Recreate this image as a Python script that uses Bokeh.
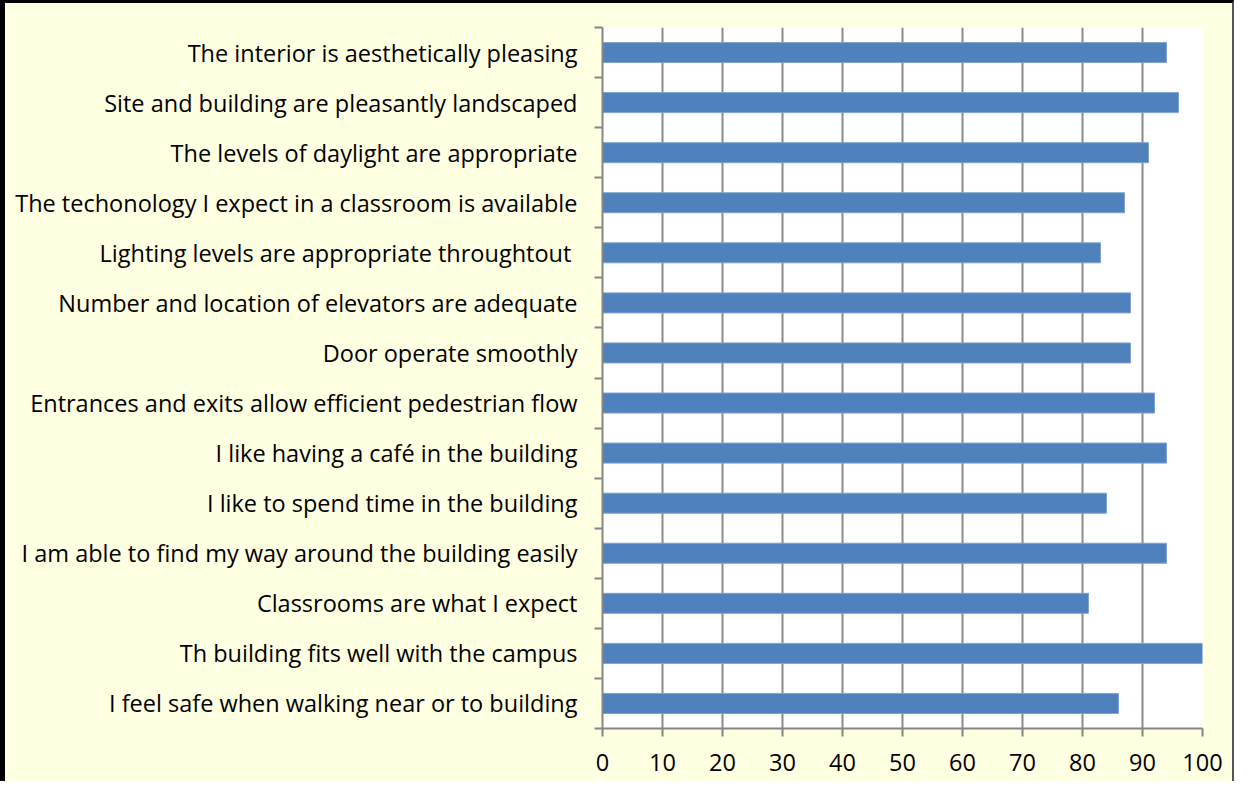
from bokeh.plotting import figure
from bokeh.models import FixedTicker, ColumnDataSource, Range1d
from bokeh.embed import file_html
from bokeh.resources import INLINE

categories = [
    "The interior is aesthetically pleasing",
    "Site and building are pleasantly landscaped",
    "The levels of daylight are appropriate",
    "The techonology I expect in a classroom is available",
    "Lighting levels are appropriate throughtout ",
    "Number and location of elevators are adequate",
    "Door operate smoothly",
    "Entrances and exits allow efficient pedestrian flow",
    "I like having a café in the building",
    "I like to spend time in the building",
    "I am able to find my way around the building easily",
    "Classrooms are what I expect",
    "Th building fits well with the campus",
    "I feel safe when walking near or to building",
]
values = [94, 96, 91, 87, 83, 88, 88, 92, 94, 84, 94, 81, 100, 86]
x_ticks = [0, 10, 20, 30, 40, 50, 60, 70, 80, 90, 100]

n = len(categories)
ypos = [n - i - 0.5 for i in range(n)]

W, H = 1234, 781
FL, FT, FW, FH = 597, 24, 600, 701
p = figure(width=W, height=H, output_backend="svg", toolbar_location=None,
           x_range=Range1d(0, 100), y_range=Range1d(0, n),
           min_border_left=FL, min_border_right=W - FL - FW,
           min_border_top=FT, min_border_bottom=H - FT - FH)
p.background_fill_color = "white"
p.border_fill_color = "#FFFFE2"
p.outline_line_color = None
p.styles = {"border-left": "5px solid black", "border-top": "3px solid black",
            "border-right": "2px solid #555555"}

src = ColumnDataSource(dict(y=ypos, v=values))
p.hbar(y="y", right="v", left=0, height=0.4, source=src,
       fill_color="#4F81BD", line_color="#7FA3D0", line_width=1)

font = "Open Sans"
fs = "23.5px"
# x axis
p.xaxis.ticker = FixedTicker(ticks=x_ticks)
p.xaxis.axis_line_color = "#868686"
p.xaxis.axis_line_width = 2
p.xaxis.major_tick_line_color = "#868686"
p.xaxis.major_tick_line_width = 2
p.xaxis.major_tick_out = 8
p.xaxis.major_tick_in = 0
p.xaxis.minor_tick_line_color = None
p.xaxis.major_label_text_font = font
p.xaxis.major_label_text_font_size = fs
p.xaxis.major_label_text_color = "black"
p.xaxis.major_label_standoff = 17

# y axis
p.yaxis.ticker = FixedTicker(ticks=ypos, minor_ticks=list(range(n + 1)))
p.yaxis.major_label_overrides = {y: c for y, c in zip(ypos, categories)}
p.yaxis.axis_line_color = "#868686"
p.yaxis.axis_line_width = 2
p.yaxis.major_tick_line_color = None
p.yaxis.major_tick_out = 0
p.yaxis.major_tick_in = 0
p.yaxis.minor_tick_line_color = "#868686"
p.yaxis.minor_tick_line_width = 2
p.yaxis.minor_tick_out = 8
p.yaxis.minor_tick_in = 0
p.yaxis.major_label_text_font = font
p.yaxis.major_label_text_font_size = fs
p.yaxis.major_label_text_color = "black"
p.yaxis.major_label_standoff = 17

p.xgrid.ticker = FixedTicker(ticks=x_ticks)
p.xgrid.grid_line_color = "#8A8A8A"
p.xgrid.grid_line_width = 2
p.ygrid.grid_line_color = None

open("out.html", "w").write(file_html(p, INLINE))
